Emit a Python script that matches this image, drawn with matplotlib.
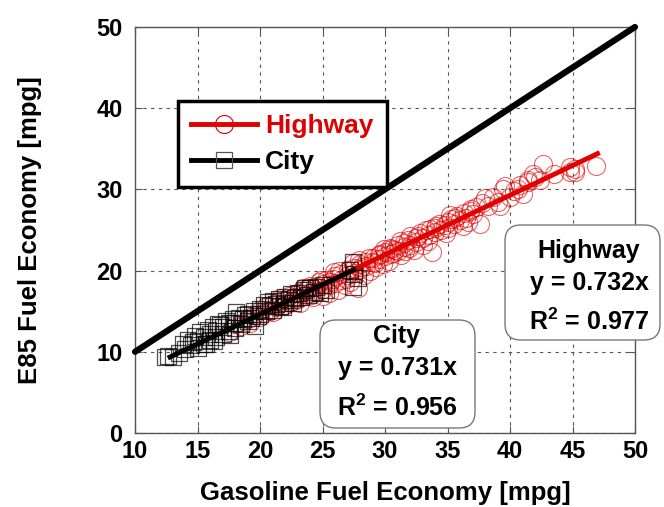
import matplotlib
matplotlib.use("Agg")
import matplotlib.pyplot as plt
from matplotlib.lines import Line2D
from matplotlib.patches import FancyBboxPatch
from matplotlib.transforms import IdentityTransform

plt.rcParams['font.family'] = ['Liberation Sans', 'DejaVu Sans']
plt.rcParams['font.weight'] = 'bold'
plt.rcParams['mathtext.fontset'] = 'custom'
plt.rcParams['mathtext.rm'] = 'Liberation Sans:bold'
plt.rcParams['mathtext.bf'] = 'Liberation Sans:bold'
plt.rcParams['mathtext.default'] = 'rm'

# Highway data (gasoline mpg, E85 mpg)
hwy_x = [17.5, 18.0, 18.5, 19.0, 19.2, 19.5, 20.0, 20.0, 20.3, 20.5, 20.8, 21.0, 21.0, 21.3,
         21.5, 21.8, 22.0, 22.0, 22.3, 22.5, 22.7, 23.0, 23.0, 23.2, 23.5, 23.5, 23.8, 24.0,
         24.0, 24.2, 24.5, 24.5, 24.7, 25.0, 25.0, 25.0, 25.3, 25.5, 25.5, 25.8, 26.0, 26.0,
         26.2, 26.5, 26.5, 26.8, 27.0, 27.0, 27.2, 27.5, 27.5, 27.8, 28.0, 28.0, 28.3, 28.5,
         28.5, 28.8, 29.0, 29.0, 29.3, 29.5, 29.5, 29.8, 30.0, 30.0, 30.3, 30.4, 30.5, 30.5,
         30.8, 31.0, 31.0, 31.3, 31.5, 31.5, 31.8, 32.0, 32.0, 32.3, 32.5, 32.5, 32.8, 33.0,
         33.0, 33.3, 33.5, 33.8, 34.0, 34.0, 34.3, 34.5, 34.8, 35.0, 35.0, 35.3, 35.5, 35.8,
         36.0, 36.3, 36.5, 36.8, 37.0, 37.3, 37.6, 37.8, 38.2, 38.6, 39.0, 39.4, 39.6, 40.0,
         40.3, 40.6, 41.0, 41.4, 41.4, 41.8, 42.4, 42.6, 44.8, 44.8, 45.2, 45.2, 46.9,
         24.1, 24.9, 25.6, 26.3, 26.9, 27.4, 28.1, 28.7, 29.2, 29.9, 30.6, 31.2, 31.9, 32.6,
         33.4, 34.1, 34.9, 35.6, 36.2, 36.9, 23.4, 22.6, 21.6, 25.9, 27.9, 29.6, 31.6, 33.6,
         35.2, 36.6, 38.0, 39.2, 40.8, 42.0, 43.5]
hwy_y = [12.5, 13.4, 13.2, 14.1, 13.6, 14.5, 14.3, 15.1, 14.8, 15.6, 15.0, 15.9, 14.9, 15.5,
         16.2, 15.7, 16.4, 15.8, 16.9, 16.1, 16.7, 17.2, 16.5, 16.0, 17.5, 16.9, 17.8, 17.3,
         18.1, 16.8, 18.0, 17.4, 18.6, 18.3, 17.7, 16.9, 18.9, 18.2, 17.3, 19.0, 19.3, 18.5,
         17.6, 19.6, 18.9, 18.2, 20.1, 19.4, 18.6, 20.3, 19.7, 17.8, 20.8, 20.2, 19.5, 21.0,
         20.6, 20.0, 21.6, 21.0, 20.4, 21.9, 21.4, 20.8, 22.3, 21.8, 21.2, 22.8, 22.0, 22.6,
         22.5, 23.2, 22.4, 21.9, 23.4, 22.9, 23.8, 23.1, 24.2, 22.5, 24.0, 23.5, 24.6, 24.0,
         23.2, 25.0, 24.4, 22.3, 25.3, 24.7, 25.8, 25.0, 25.6, 26.0, 25.3, 26.4, 25.8, 26.7,
         26.2, 27.1, 26.5, 27.4, 27.0, 27.8, 25.7, 28.3, 27.9, 29.1, 28.5, 30.0, 30.4, 29.1,
         29.8, 30.0, 29.4, 30.9, 31.2, 31.9, 31.2, 33.1, 32.1, 32.7, 32.5, 32.1, 32.9,
         17.0, 18.8, 18.6, 19.9, 19.0, 20.9, 20.4, 21.5, 20.9, 22.6, 22.2, 23.6, 22.8, 24.3,
         23.7, 25.5, 24.6, 26.5, 25.5, 27.6, 17.9, 16.3, 16.6, 19.8, 21.3, 22.1, 22.4, 25.1,
         26.9, 26.0, 28.9, 28.0, 30.6, 31.5, 31.9]

# City data
city_x = [12.4, 12.6, 13.0, 13.5, 14.0, 14.2, 14.5, 14.8, 15.0, 15.0, 15.2, 15.5, 15.5, 15.8,
          16.0, 16.0, 16.2, 16.5, 16.5, 16.8, 17.0, 17.0, 17.3, 17.5, 17.5, 17.8, 18.0, 18.0,
          18.3, 18.5, 18.8, 19.0, 19.0, 19.3, 19.5, 19.8, 20.0, 20.0, 20.3, 20.5, 20.8, 21.0,
          21.0, 21.3, 21.5, 21.8, 22.0, 22.0, 22.3, 22.5, 22.8, 23.0, 23.3, 23.5, 23.8, 24.0,
          24.3, 24.5, 25.0, 25.3, 27.2, 27.4, 27.4, 27.8, 27.5,
          14.6, 15.7, 16.6, 17.6, 18.6, 19.6, 20.6, 21.6, 22.6, 23.6, 24.8, 13.8, 16.3, 18.1]
city_y = [9.3, 9.5, 9.3, 9.8, 10.3, 11.5, 10.8, 12.0, 10.5, 11.3, 12.4, 11.0, 11.8, 12.7,
          11.5, 12.2, 13.0, 11.8, 12.6, 13.3, 12.2, 13.0, 13.8, 12.6, 13.5, 14.0, 12.9, 13.6,
          14.2, 13.4, 14.5, 13.8, 14.7, 14.2, 15.0, 14.4, 15.3, 14.6, 15.8, 15.0, 15.6, 16.2,
          15.2, 15.9, 16.5, 15.5, 16.8, 16.0, 16.4, 17.1, 16.6, 17.3, 16.8, 17.6, 17.0, 17.9,
          17.4, 18.0, 18.2, 17.6, 20.1, 21.1, 18.0, 19.1, 19.6,
          11.2, 10.9, 13.4, 12.1, 14.0, 13.2, 16.1, 15.6, 16.0, 17.9, 17.2, 10.9, 11.3, 14.9]

hwy_slope = 0.732
city_slope = 0.731
hwy_r2 = 0.977
city_r2 = 0.956
hwy_fit_x = [20.0, 47.0]
city_fit_x = [12.8, 27.5]
one_x = [10, 50]

RED = '#e00000'
W, H = 664, 507

fig = plt.figure(figsize=(W / 100, H / 100), dpi=100)
ax = fig.add_axes([135/W, 74/H, 500/W, 406/H])

ax.plot(hwy_x, hwy_y, 'o', ms=13, mfc='none', mec=RED, mew=0.8, alpha=0.6, zorder=3)
ax.plot(city_x, city_y, 's', ms=12, mfc='none', mec='black', mew=0.9, alpha=0.7, zorder=4)
ax.plot(hwy_fit_x, [hwy_slope * v for v in hwy_fit_x], color=RED, lw=3.5, zorder=5)
ax.plot(city_fit_x, [city_slope * v for v in city_fit_x], color='black', lw=3.5, zorder=6)
ax.plot(one_x, one_x, color='black', lw=4.5, zorder=6, solid_capstyle='round', clip_on=False)

ax.set_xlim(10, 50)
ax.set_ylim(0, 50)
ax.set_xticks(range(10, 51, 5))
ax.set_yticks(range(0, 51, 10))
ax.grid(True, ls=(0, (3, 4)), color='#555555', lw=0.8)
ax.tick_params(direction='in', length=5, labelsize=17, width=0.8, color='#555555',
               top=True, right=True)
ax.tick_params(axis='x', pad=5)
ax.tick_params(axis='y', pad=9)
for lab in ax.get_xticklabels() + ax.get_yticklabels():
    lab.set_fontweight('bold')
for s in ax.spines.values():
    s.set_color('#555555')
    s.set_linewidth(1.0)

ax.set_xlabel('Gasoline Fuel Economy [mpg]', fontsize=18.5, fontweight='bold', labelpad=13)
ax.set_ylabel('E85 Fuel Economy [mpg]', fontsize=18.5, fontweight='bold')
ax.yaxis.set_label_coords(-0.185, 0.5)

handles = [Line2D([], [], color=RED, lw=3.5, marker='o', ms=13, mfc='none', mec=RED, mew=0.8),
           Line2D([], [], color='black', lw=3.5, marker='s', ms=12, mfc='none', mec='#555555', mew=0.9)]
leg = ax.legend(handles, ['Highway', 'City'], loc='upper left', bbox_to_anchor=(0.086, 0.818),
                borderaxespad=0, fancybox=False, framealpha=1, edgecolor='black',
                prop={'size': 19, 'weight': 'bold'}, labelcolor=[RED, 'black'],
                handlelength=2.5, handletextpad=0.3, borderpad=0.5, labelspacing=0.45)
leg.get_frame().set_linewidth(2.5)
leg.set_zorder(10)


def stat_box(x0, y0, x1, y1, cx, ys, lines):
    # box given in pixel coords from the top-left corner
    patch = FancyBboxPatch((x0, H - y1), x1 - x0, y1 - y0,
                           boxstyle='round,pad=0,rounding_size=16',
                           transform=IdentityTransform(), fc='white', ec='#777777',
                           lw=1.0, zorder=20)
    fig.add_artist(patch)
    for y, s in zip(ys, lines):
        fig.text(cx / W, 1 - y / H, s, ha='center', va='center', fontsize=18,
                 fontweight='bold', zorder=21)


stat_box(320, 320, 475, 428, 397, [336, 368, 408],
         ['City', f'y = {city_slope:.3f}x', f'R$^2$ = {city_r2:.3f}'])
stat_box(505, 225, 660, 340, 589, [251, 283, 322],
         ['Highway', f'y = {hwy_slope:.3f}x', f'R$^2$ = {hwy_r2:.3f}'])

fig.savefig('out.png', dpi=100)
